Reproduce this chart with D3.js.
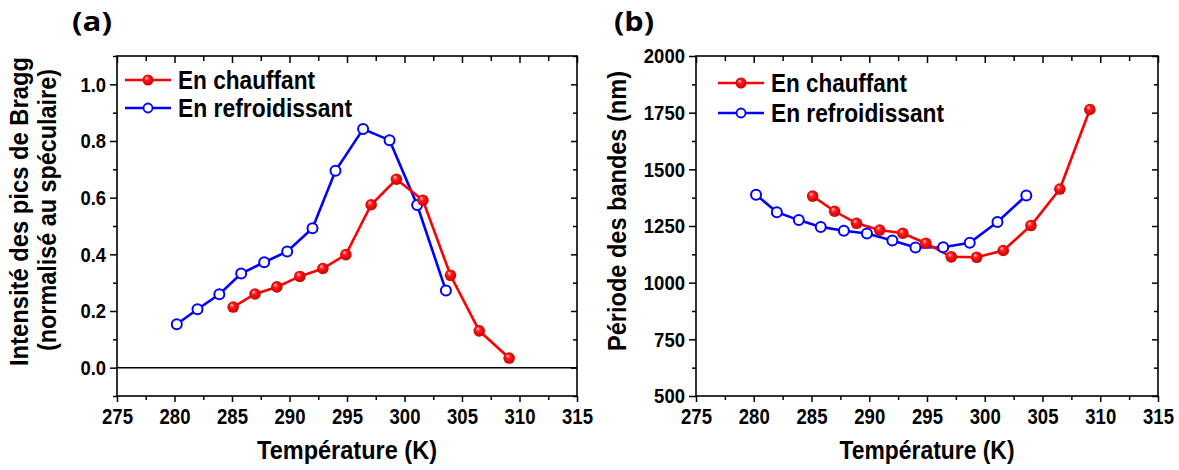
<!doctype html>
<meta charset="utf-8">
<style>
body { margin: 0; background: #fff; }
.narrow { font-family: 'Liberation Sans', Arial, sans-serif; font-weight: bold; }
.frame { fill: none; stroke: #000; stroke-width: 1.6px; }
.line { fill: none; stroke-width: 2.6px; }
</style>
<html lang="fr">
<body>
<script src="https://d3js.org/d3.v7.min.js"></script>
<script>
// temperatures (same for both panels)
var tempChauffant = [285.1, 287.0, 288.9, 290.9, 292.9, 294.9, 297.1, 299.3, 301.6, 304.0, 306.5, 309.1];
var tempRefroid   = [280.2, 282.0, 283.9, 285.8, 287.8, 289.8, 292.0, 294.0, 296.4, 298.7, 301.1, 303.6];

// (a) intensity of Bragg peaks
var intensChauffant = [0.214, 0.260, 0.285, 0.322, 0.350, 0.399, 0.575, 0.665, 0.591, 0.326, 0.130, 0.034];
var intensRefroid   = [0.153, 0.206, 0.259, 0.332, 0.372, 0.410, 0.492, 0.695, 0.842, 0.803, 0.574, 0.272];

// (b) band period (nm)
var periodeChauffant = [1382, 1315, 1262, 1232, 1218, 1174, 1114, 1112, 1142, 1252, 1413, 1764];
var periodeRefroid   = [1388, 1311, 1276, 1246, 1229, 1217, 1186, 1155, 1156, 1176, 1268, 1385];

var xTicks = [275, 280, 285, 290, 295, 300, 305, 310, 315];
var yTicksA = [0.0, 0.2, 0.4, 0.6, 0.8, 1.0];
var yTicksB = [500, 750, 1000, 1250, 1500, 1750, 2000];
var legendLabels = ["En chauffant", "En refroidissant"];

var W = 1179, H = 470;
var svg = d3.select("body").append("svg")
    .attr("width", W)
    .attr("height", H);

// shaded sphere for the filled markers
var grad = svg.append("defs").append("radialGradient")
    .attr("id", "sphere")
    .attr("cx", "50%").attr("cy", "50%").attr("r", "55%")
    .attr("fx", "35%").attr("fy", "30%");
grad.append("stop").attr("offset", "0%").attr("stop-color", "#ffd0d0");
grad.append("stop").attr("offset", "35%").attr("stop-color", "#ff1a1a");
grad.append("stop").attr("offset", "100%").attr("stop-color", "#c00000");

// squeeze the bold sans to look like the condensed face of the original
function squeeze(sel) {
  sel.attr("lengthAdjust", "spacingAndGlyphs")
     .attr("textLength", function() {
       var s = this.textContent;
       var digits = s.replace(/[^0-9]/g, "").length;
       return digits * 10.3 + (s.length - digits) * 5;
     });
}

function drawPanel(p) {
  var g = svg.append("g").attr("transform", "translate(" + p.left + "," + p.top + ")");
  var w = p.width, h = p.height;

  var x = d3.scaleLinear().domain([275, 315]).range([0, w]);
  var y = d3.scaleLinear().domain(p.yDomain).range([h, 0]);

  var xMinor = d3.range(277.5, 315, 5);
  var yMinor = p.yMinor;

  // bottom axis
  g.append("g")
      .attr("transform", "translate(0," + h + ")")
      .call(d3.axisBottom(x).tickValues(xMinor).tickSize(4).tickFormat(""))
      .call(function(a) { a.select(".domain").remove(); });
  var ax = g.append("g")
      .attr("class", "narrow")
      .attr("transform", "translate(0," + h + ")")
      .call(d3.axisBottom(x).tickValues(xTicks).tickSize(6).tickPadding(6).tickFormat(d3.format("d")));
  ax.select(".domain").remove();
  ax.selectAll("text").attr("font-size", 22).attr("fill", "#000").attr("font-family", null).call(squeeze);

  // top axis (inward)
  g.append("g")
      .call(d3.axisBottom(x).tickValues(xTicks).tickSize(7).tickFormat(""))
      .call(function(a) { a.select(".domain").remove(); });
  g.append("g")
      .call(d3.axisBottom(x).tickValues(xMinor).tickSize(5).tickFormat(""))
      .call(function(a) { a.select(".domain").remove(); });

  // left axis
  g.append("g")
      .call(d3.axisLeft(y).tickValues(yMinor).tickSize(4).tickFormat(""))
      .call(function(a) { a.select(".domain").remove(); });
  var ay = g.append("g")
      .attr("class", "narrow")
      .call(d3.axisLeft(y).tickValues(p.yTicks).tickSize(7).tickPadding(4).tickFormat(p.yFormat));
  ay.select(".domain").remove();
  ay.selectAll("text").attr("font-size", 21).attr("fill", "#000").attr("font-family", null).call(squeeze);

  // right axis (inward)
  g.append("g")
      .attr("transform", "translate(" + w + ",0)")
      .call(d3.axisLeft(y).tickValues(p.yTicks).tickSize(6).tickFormat(""))
      .call(function(a) { a.select(".domain").remove(); });
  g.append("g")
      .attr("transform", "translate(" + w + ",0)")
      .call(d3.axisLeft(y).tickValues(yMinor).tickSize(4).tickFormat(""))
      .call(function(a) { a.select(".domain").remove(); });

  g.selectAll(".tick line").attr("stroke", "#000").attr("stroke-width", 1.5);

  g.append("rect").attr("class", "frame")
      .attr("width", w).attr("height", h);

  if (p.zeroLine) {
    g.append("line")
        .attr("x1", 0).attr("x2", w)
        .attr("y1", y(0)).attr("y2", y(0))
        .attr("stroke", "#000").attr("stroke-width", 1.5);
  }

  var line = d3.line()
      .x(function(d) { return x(d[0]); })
      .y(function(d) { return y(d[1]); });

  var red = d3.zip(tempChauffant, p.redVals);
  var blue = d3.zip(tempRefroid, p.blueVals);

  g.append("path").datum(blue).attr("class", "line").attr("stroke", "#0000ff").attr("d", line);
  g.append("path").datum(red).attr("class", "line").attr("stroke", "#ff0000").attr("d", line);

  g.selectAll(".blue-pt").data(blue).enter().append("circle")
      .attr("cx", function(d) { return x(d[0]); })
      .attr("cy", function(d) { return y(d[1]); })
      .attr("r", 5)
      .attr("fill", "#fff").attr("stroke", "#0000ff").attr("stroke-width", 2);

  g.selectAll(".red-pt").data(red).enter().append("circle")
      .attr("cx", function(d) { return x(d[0]); })
      .attr("cy", function(d) { return y(d[1]); })
      .attr("r", 5.8)
      .attr("fill", "url(#sphere)");

  // legend
  var lg = g.append("g").attr("transform", "translate(" + p.legendX + "," + p.legendY + ")");
  [0, 1].forEach(function(i) {
    var yy = i * p.legendGap;
    var col = i === 0 ? "#ff0000" : "#0000ff";
    lg.append("line").attr("x1", 0).attr("x2", 46).attr("y1", yy).attr("y2", yy)
        .attr("stroke", col).attr("stroke-width", 2.6);
    if (i === 0) {
      lg.append("circle").attr("cx", 23).attr("cy", yy).attr("r", 5.5).attr("fill", "url(#sphere)");
    } else {
      lg.append("circle").attr("cx", 23).attr("cy", yy).attr("r", 4.5)
          .attr("fill", "#fff").attr("stroke", col).attr("stroke-width", 1.8);
    }
    lg.append("text").attr("class", "narrow")
        .attr("x", 53).attr("y", yy).attr("dy", "0.36em")
        .attr("font-size", 25)
        .attr("lengthAdjust", "spacingAndGlyphs")
        .attr("textLength", p.legendLen[i])
        .text(legendLabels[i]);
  });

  // x title
  g.append("text").attr("class", "narrow")
      .attr("x", w / 2).attr("y", h + 63)
      .attr("text-anchor", "middle").attr("font-size", 26)
      .attr("lengthAdjust", "spacingAndGlyphs")
      .attr("textLength", p.xTitleLen)
      .text("Température (K)");

  // y title
  p.yTitle.forEach(function(t, i) {
    g.append("text").attr("class", "narrow")
        .attr("transform", "translate(" + (p.yTitleX + i * 28) + "," + (h / 2 - 15 + p.yTitleDy[i]) + ") rotate(-90)")
        .attr("text-anchor", "middle").attr("font-size", 25)
        .attr("lengthAdjust", "spacingAndGlyphs")
        .attr("textLength", p.yTitleLen[i])
        .text(t);
  });

  // panel letter
  svg.append("text")
      .attr("x", p.letterX).attr("y", 31)
      .attr("font-family", "'Open Sans', 'Liberation Sans', sans-serif")
      .attr("font-weight", "bold").attr("font-size", 27)
      .attr("lengthAdjust", "spacingAndGlyphs")
      .attr("textLength", 40)
      .text(p.letter);
}

drawPanel({
  left: 117, top: 56, width: 460, height: 340,
  yDomain: [-0.1, 1.1], yTicks: yTicksA,
  yMinor: [-0.1, 0.1, 0.3, 0.5, 0.7, 0.9, 1.1],
  yFormat: d3.format(".1f"),
  redVals: intensChauffant, blueVals: intensRefroid,
  zeroLine: true,
  legendX: 8, legendY: 24, legendGap: 28, legendLen: [137, 174],
  xTitleLen: 180,
  yTitle: ["Intensité des pics de Bragg", "(normalisé au spéculaire)"],
  yTitleX: -89, yTitleDy: [0.5, -1], yTitleLen: [309, 282],
  letter: "(a)", letterX: 72
});

drawPanel({
  left: 696, top: 56, width: 462, height: 340,
  yDomain: [500, 2000], yTicks: yTicksB,
  yMinor: [625, 875, 1125, 1375, 1625, 1875],
  yFormat: d3.format("d"),
  redVals: periodeChauffant, blueVals: periodeRefroid,
  zeroLine: false,
  legendX: 22, legendY: 27, legendGap: 30, legendLen: [136, 173],
  xTitleLen: 175,
  yTitle: ["Période des bandes (nm)"],
  yTitleX: -70, yTitleDy: [0], yTitleLen: [280],
  letter: "(b)", letterX: 614
});
</script>
</body>
</html>
